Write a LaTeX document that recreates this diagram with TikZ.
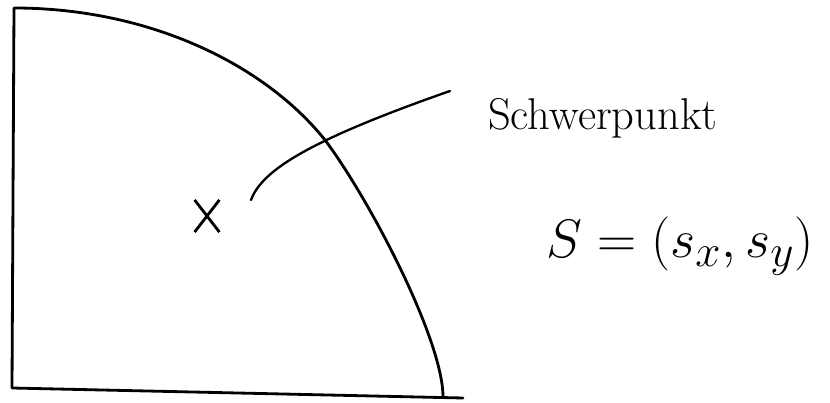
\documentclass[tikz,border=0pt]{standalone}
\usepackage{graphicx}
\usepackage{tikz}
\usetikzlibrary{positioning,shapes.misc}

\begin{document}
\begin{tikzpicture}[
    x=0.03cm, y=-0.03cm,
    every node/.style = {text=black},
    outline/.style = {draw, line width=2.4pt, line join=round, line cap=round},
    lead/.style = {draw, line width=2pt, line cap=round},
    mark cross/.style = {draw, cross out, line width=2.4pt, minimum width=0.66cm,
      minimum height=0.88cm, inner sep=0pt},
    hand/.style = {font=\fontsize{38}{42}\selectfont, inner sep=0pt}]
  \useasboundingbox (0,0) rectangle (830,403);

  % quarter area
  \draw[outline] (463,398) -- (12,388) -- (14,8)
    .. controls (150,8) and (265,65) .. (325,140)
    .. controls (370,200) and (443,340) .. (443,397);

  % centroid
  \node (ctr) [mark cross] at (207,216) {};
  \coordinate (tail) at (251,200);
  \coordinate (head) at (450,91);
  \draw[lead] (tail) .. controls (262,170) and (310,140) .. (head);

  \node (name) [hand, anchor=base west] at (488,130) {Schwerpunkt};
  \node (coord) [hand, font=\Huge, anchor=base west]
    at (546,258) {\scalebox{1.86}{$S = (s_x, s_y)$}};
\end{tikzpicture}
\end{document}
